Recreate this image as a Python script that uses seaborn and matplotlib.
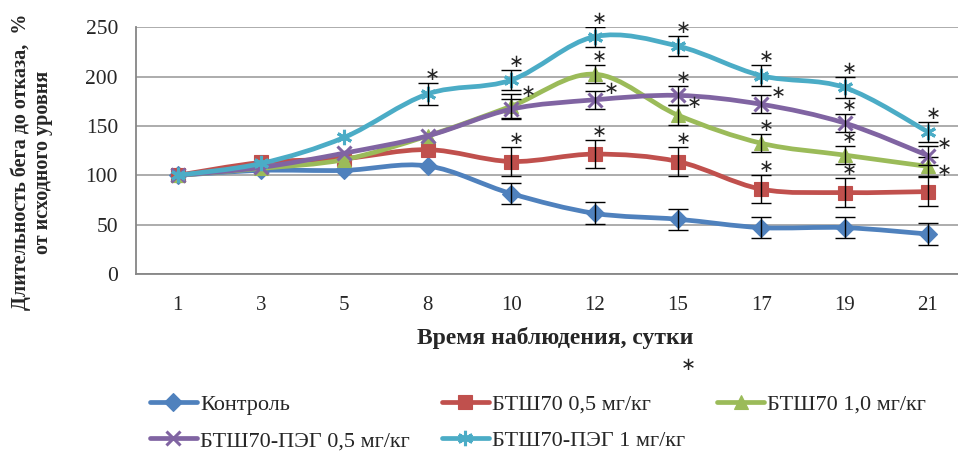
import numpy as np
import pandas as pd
import seaborn as sns
import matplotlib.pyplot as plt
from matplotlib.path import Path
from matplotlib.patches import PathPatch
from matplotlib.lines import Line2D

# days of observation (categorical x axis)
days = ['1', '3', '5', '8', '10', '12', '15', '17', '19', '21']

names = ['Контроль', 'БТШ70 0,5 мг/кг', 'БТШ70 1,0 мг/кг',
         'БТШ70-ПЭГ 0,5 мг/кг', 'БТШ70-ПЭГ 1 мг/кг']

# running time to exhaustion, % of initial level
control = [100, 105, 105, 109.5, 81.5, 61.5, 55.5, 47, 47, 40.5]
btsh_05 = [100, 113, 117, 126, 114, 121.5, 114, 86, 82.5, 83.5]
btsh_10 = [100, 107, 116, 140, 170, 202.5, 161, 132.5, 120.5, 109]
peg_05 = [100, 108, 122.5, 140, 167, 176.5, 181, 172, 153, 120]
peg_1 = [100, 112, 138.5, 182.5, 196.5, 240.5, 231, 201, 189, 144]

nan = np.nan
control_err = [nan, nan, nan, nan, 11, 11, 10.5, 11, 11, 11]
btsh_05_err = [nan, nan, nan, nan, 14.5, 14, 14.5, 14.5, 14.5, 14.5]
btsh_10_err = [nan, nan, nan, nan, 12, 9, 10, 9, 9, 10]
peg_05_err = [nan, nan, nan, nan, 10, 9, 9.5, 9, 9.5, 9.5]
peg_1_err = [nan, nan, nan, 11, 10, 10, 10, 10.5, 10.5, 10]

# significance marks: 'top' above the bar, 'right' beside it, 'low' beside the lower cap
control_star = [''] * 10
btsh_05_star = ['', '', '', '', 'top', 'top', 'top', 'top', 'top', '']
btsh_10_star = ['', '', '', '', 'right', 'top', 'right', 'top', 'top', 'low']
peg_05_star = ['', '', '', '', '', 'right', 'top', 'right', 'top', 'right']
peg_1_star = ['', '', '', 'top', 'top', 'top', 'top', 'top', 'top', 'top']

values = [control, btsh_05, btsh_10, peg_05, peg_1]
errors = [control_err, btsh_05_err, btsh_10_err, peg_05_err, peg_1_err]
stars = [control_star, btsh_05_star, btsh_10_star, peg_05_star, peg_1_star]

colors = ['#4F81BD', '#C0504D', '#9BBB59', '#8064A2', '#4BACC6']
markers = ['D', 's', '^', 'x', (6, 2, 0)]
msizes = [9.5, 10, 10, 10, 11]

rows = []
for name, vals, errs in zip(names, values, errors):
    for i, (v, e) in enumerate(zip(vals, errs)):
        rows.append({'series': name, 'pos': i, 'day': days[i], 'value': v, 'err': e})
df = pd.DataFrame(rows)


def smooth_path(xs, ys):
    # Excel-like smoothed line as cubic bezier segments
    pts = np.column_stack([xs, ys]).astype(float)
    n = len(pts)
    verts = [pts[0]]
    codes = [Path.MOVETO]
    for i in range(n - 1):
        p0 = pts[max(i - 1, 0)]
        p1 = pts[i]
        p2 = pts[i + 1]
        p3 = pts[min(i + 2, n - 1)]
        verts += [p1 + (p2 - p0) / 6, p2 - (p3 - p1) / 6, p2]
        codes += [Path.CURVE4] * 3
    return Path(verts, codes)


sns.set_style('white')
plt.rcParams['font.family'] = ['Liberation Serif', 'DejaVu Serif']

fig = plt.figure(figsize=(9.58, 4.57), dpi=100)
ax = fig.add_axes([136 / 958, 183 / 457, 822 / 958, 246.7 / 457])

for k, name in enumerate(names):
    sub = df[df['series'] == name]
    col = colors[k]
    z = 2 + k * 0.1
    ax.add_patch(PathPatch(smooth_path(sub['pos'], sub['value']), facecolor='none',
                           edgecolor=col, lw=3.4, capstyle='round', joinstyle='round',
                           zorder=z))
    sns.lineplot(data=sub, x='pos', y='value', ax=ax, color=col, linestyle='',
                 marker=markers[k], markersize=msizes[k], mec=col,
                 mew=2.2 if k >= 3 else 0.8, zorder=z + 0.03, clip_on=False)
    ax.errorbar(sub['pos'], sub['value'], yerr=sub['err'], fmt='none', ecolor='black',
                elinewidth=1, capsize=7, capthick=1, zorder=z + 0.06)
    for i, (v, e, s) in enumerate(zip(sub['value'], sub['err'], stars[k])):
        if s == 'top':
            x, y = i + 0.06, v + e + 8
        elif s == 'right':
            x, y = i + 0.2, v + e + 2
        elif s == 'low':
            x, y = i + 0.2, v - e + 5
        else:
            continue
        ax.text(x, y, '∗', fontsize=13, family='DejaVu Sans', ha='center', va='center',
                zorder=6)

ax.set_xlim(-0.5, (958 - 178) / 83.33)
ax.set_ylim(0, 250)
ax.set_yticks(range(0, 251, 50))
ax.set_xticks(np.arange(-0.5, 9, 1))
ax.set_xticklabels([])
ax.set_xticks(range(len(days)), minor=True)
ax.set_xticklabels(days, minor=True)
ax.tick_params(axis='x', which='major', length=5, width=1.2, color='#868686', direction='out')
ax.tick_params(axis='x', which='minor', length=0, pad=16, labelsize=15)
ax.tick_params(axis='y', length=5, width=1.2, color='#868686', pad=8, labelsize=15.5)
ax.yaxis.grid(True, color='#A6A6A6', lw=1.3)
ax.set_axisbelow(True)
for side in ['top', 'right']:
    ax.spines[side].set_visible(False)
for side in ['left', 'bottom']:
    ax.spines[side].set_color('#868686')
    ax.spines[side].set_linewidth(1.3)
ax.set_xlabel('')
ax.set_ylabel('')

fig.text(555 / 958, 1 - 338 / 457, 'Время наблюдения, сутки', ha='center', va='center',
         fontsize=17, fontweight='bold')
fig.text(688 / 958, 1 - 365 / 457, '∗', ha='center', va='center', fontsize=13,
         family='DejaVu Sans')
fig.text(32 / 958, 1 - 162 / 457, 'Длительность бега до отказа,  %\nот исходного уровня',
         ha='center', va='center', rotation=90, fontsize=14.5, fontweight='bold',
         multialignment='center', linespacing=1.15)

handles = [Line2D([], [], color=colors[k], lw=3.4, marker=markers[k], ms=msizes[k],
                  mec=colors[k], mew=2.2 if k >= 3 else 0.8) for k in range(5)]
order = [0, 3, 1, 4, 2]
fig.legend([handles[i] for i in order], [names[i] for i in order], ncol=3,
           loc='upper left', bbox_to_anchor=(150 / 958, 1 - 394 / 457), frameon=False,
           fontsize=16, handlelength=2.1, handletextpad=0.15, columnspacing=1.45,
           labelspacing=0.72, borderpad=0, borderaxespad=0)

fig.savefig('out.png', dpi=100)
